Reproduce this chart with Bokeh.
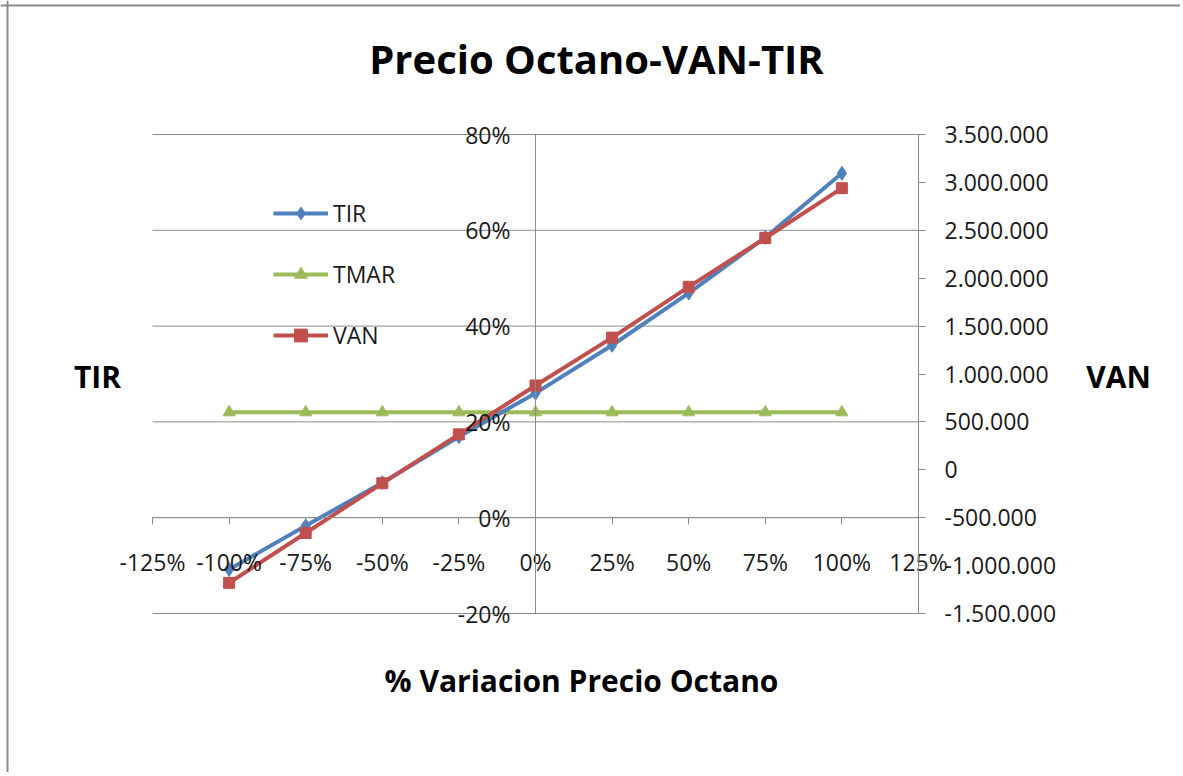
from bokeh.plotting import figure
from bokeh.models import (Range1d, LinearAxis, FixedTicker, PrintfTickFormatter,
                          Legend, LegendItem, Label, ColumnDataSource, Span)
from bokeh.embed import file_html
from bokeh.resources import INLINE

# ---------------- data ----------------
variacion = [-100, -75, -50, -25, 0, 25, 50, 75, 100]          # % variación precio octano
tir = [-10.8, -1.7, 7.3, 16.9, 26.0, 36.0, 46.9, 58.5, 71.9]     # TIR (%)
tmar = [22, 22, 22, 22, 22, 22, 22, 22, 22]                      # TMAR (%)
van = [-1180000, -660000, -140000, 370000, 880000, 1380000, 1910000, 2420000, 2940000]

x_ticks = [-125, -100, -75, -50, -25, 0, 25, 50, 75, 100, 125]
tir_ticks = [-20, 0, 20, 40, 60, 80]
van_ticks = [-1500000, -1000000, -500000, 0, 500000, 1000000, 1500000,
             2000000, 2500000, 3000000, 3500000]
van_tick_labels = ["-1.500.000", "-1.000.000", "-500.000", "0", "500.000", "1.000.000",
                   "1.500.000", "2.000.000", "2.500.000", "3.000.000", "3.500.000"]

title_text = "Precio Octano-VAN-TIR"
x_title = "% Variacion Precio Octano"
left_title = "TIR"
right_title = "VAN"

# ---------------- layout (page pixels) ----------------
W, H = 1180, 772
ORG = 0                       # canvas origin on the page
PX_L, PX_R = 152, 918         # x = -125 .. 125
PX_T, PX_B = 134, 613         # y = 80 .. -20

x_lo, x_hi = x_ticks[0], x_ticks[-1]
y_lo, y_hi = tir_ticks[0], tir_ticks[-1]
v_lo, v_hi = van_ticks[0], van_ticks[-1]

sx = (PX_R - PX_L) / (x_hi - x_lo)
sy = (PX_B - PX_T) / (y_hi - y_lo)
x_start = x_lo - (PX_L - ORG) / sx
x_end = x_hi + (ORG + W - PX_R) / sx
y_end = y_hi + (PX_T - ORG) / sy
y_start = y_lo - (ORG + H - PX_B) / sy
vk = (v_hi - v_lo) / (y_hi - y_lo)
v_start = v_lo + (y_start - y_lo) * vk
v_end = v_lo + (y_end - y_lo) * vk


def dx(px):
    return x_start + (px - ORG) / sx


def dy(py):
    return y_end - (py - ORG) / sy


# ---------------- styles ----------------
FONT = "Open Sans"
GRAY = "#8c8c8c"
TXT = "#1a1a1a"
BLUE = "#4F81BD"
RED = "#C0504D"
GREEN = "#9BBB59"

p = figure(width=W, height=H, output_backend="svg", toolbar_location=None,
           x_range=Range1d(x_start, x_end), y_range=Range1d(y_start, y_end),
           min_border_left=0, min_border_right=0, min_border_top=0, min_border_bottom=0)
p.outline_line_color = None
p.background_fill_color = "white"
p.border_fill_color = "white"
p.extra_y_ranges = {"van": Range1d(v_start, v_end)}

p.xgrid.visible = False
p.ygrid.visible = False

# chart border (left / top)
p.add_layout(Span(location=dx(7), dimension="height", line_color=GRAY, line_width=2))
p.add_layout(Span(location=dy(5), dimension="width", line_color=GRAY, line_width=2))

# horizontal gridlines at the TIR ticks
p.segment(x0=[x_lo] * len(tir_ticks), x1=[x_hi] * len(tir_ticks),
          y0=tir_ticks, y1=tir_ticks, line_color=GRAY, line_width=1)

# x axis crossing at 0%
xa = p.xaxis[0]
xa.fixed_location = 0
xa.bounds = (x_lo, x_hi)
xa.ticker = FixedTicker(ticks=x_ticks)
xa.formatter = PrintfTickFormatter(format="%d%%")
xa.axis_line_color = GRAY
xa.major_tick_line_color = GRAY
xa.major_tick_out = 7
xa.major_tick_in = 0
xa.minor_tick_line_color = None
xa.major_label_standoff = 21
xa.major_label_text_font = FONT
xa.major_label_text_font_size = "23px"
xa.major_label_text_color = TXT

# left y axis crossing at x = 0
ya = p.yaxis[0]
ya.fixed_location = 0
ya.bounds = (y_lo, y_hi)
ya.ticker = FixedTicker(ticks=tir_ticks)
ya.formatter = PrintfTickFormatter(format="%d%%")
ya.axis_line_color = GRAY
ya.major_tick_line_color = None
ya.major_tick_out = 0
ya.major_tick_in = 0
ya.minor_tick_line_color = None
ya.major_label_standoff = 25
ya.major_label_text_font = FONT
ya.major_label_text_font_size = "23px"
ya.major_label_text_color = TXT

# right axis VAN at x = 125%
ra = LinearAxis(y_range_name="van", ticker=FixedTicker(ticks=van_ticks),
                major_label_overrides={t: l for t, l in zip(van_ticks, van_tick_labels)})
ra.fixed_location = x_hi
ra.bounds = (v_lo, v_hi)
ra.axis_line_color = GRAY
ra.major_tick_line_color = GRAY
ra.major_tick_out = 7
ra.major_tick_in = 0
ra.minor_tick_line_color = None
ra.major_label_standoff = 19
ra.major_label_text_font = FONT
ra.major_label_text_font_size = "23px"
ra.major_label_text_color = TXT
p.add_layout(ra, "right")

# ---------------- series ----------------
src = ColumnDataSource(dict(x=variacion, tir=tir, tmar=tmar, van=van))

g_line = p.line("x", "tmar", source=src, line_color=GREEN, line_width=4)
g_pts = p.scatter("x", "tmar", source=src, marker="triangle", size=12,
                  fill_color=GREEN, line_color=GREEN)

b_line = p.line("x", "tir", source=src, line_color=BLUE, line_width=4)
b_pts = p.scatter("x", "tir", source=src, marker="diamond", size=14,
                  fill_color=BLUE, line_color=BLUE)

r_line = p.line("x", "van", source=src, y_range_name="van", line_color=RED, line_width=4)
r_pts = p.scatter("x", "van", source=src, y_range_name="van", marker="square", size=11,
                  fill_color=RED, line_color=RED)

legend = Legend(items=[
    LegendItem(label="TIR", renderers=[b_line, b_pts]),
    LegendItem(label="TMAR", renderers=[g_line, g_pts]),
    LegendItem(label="VAN", renderers=[r_line, r_pts]),
], location=(273 - ORG, ORG + H - 351))
legend.orientation = "vertical"
legend.border_line_color = None
legend.background_fill_alpha = 0
legend.padding = 0
legend.margin = 0
legend.spacing = 29
legend.glyph_width = 55
legend.glyph_height = 32
legend.label_height = 32
legend.label_standoff = 5
legend.label_text_font = FONT
legend.label_text_font_size = "23px"
legend.label_text_color = TXT
p.add_layout(legend)

# ---------------- titles ----------------
p.add_layout(Label(x=dx(596), y=dy(58), text=title_text, text_align="center",
                   text_baseline="middle", text_font=FONT, text_font_size="40px",
                   text_font_style="bold", text_color="black"))
p.add_layout(Label(x=dx(581), y=dy(680), text=x_title, text_align="center",
                   text_baseline="middle", text_font=FONT, text_font_size="30px",
                   text_font_style="bold", text_color="black"))
p.add_layout(Label(x=dx(97), y=dy(376), text=left_title, text_align="center",
                   text_baseline="middle", text_font=FONT, text_font_size="30px",
                   text_font_style="bold", text_color="black"))
p.add_layout(Label(x=dx(1118), y=dy(376), text=right_title, text_align="center",
                   text_baseline="middle", text_font=FONT, text_font_size="30px",
                   text_font_style="bold", text_color="black"))

open("out.html", "w").write(file_html(p, INLINE))
